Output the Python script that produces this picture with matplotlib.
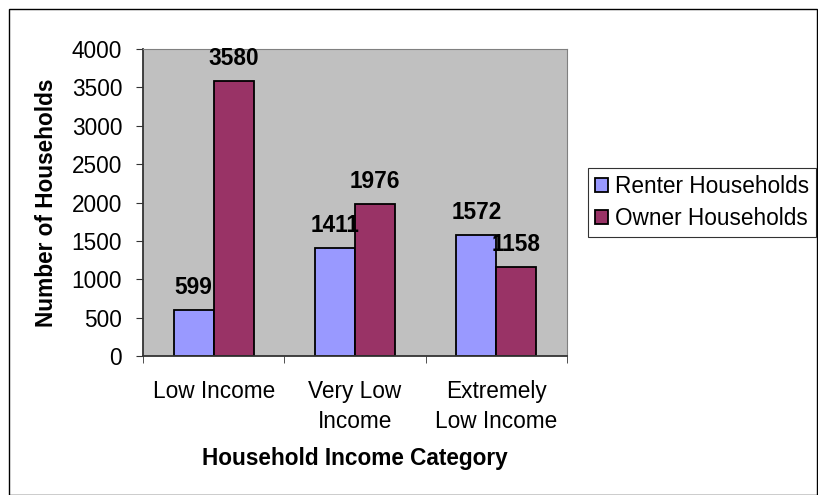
import numpy as np
import matplotlib.pyplot as plt
from matplotlib.patches import Rectangle

plt.rcParams['font.family'] = ['Liberation Sans', 'DejaVu Sans']

categories = ["Low Income", "Very Low\nIncome", "Extremely\nLow Income"]
renter = [599, 1411, 1572]
owner = [3580, 1976, 1158]
series_names = ["Renter Households", "Owner Households"]

FS = 16.3
W, H = 818, 495
fig = plt.figure(figsize=(W / 100, H / 100), dpi=100)
# outer chart border
fig.patches.append(Rectangle((9 / W, 0.5 / H), (W - 10) / W, (H - 9.5) / H,
                             transform=fig.transFigure, fill=False,
                             edgecolor='black', linewidth=1))

ax = fig.add_axes([143 / W, 1 - 356 / H, (567 - 143) / W, (356 - 49) / H])
ax.set_facecolor('#C0C0C0')

x = np.arange(len(categories))
bw = 0.282
b1 = ax.bar(x - bw / 2, renter, bw, color='#9999FF', edgecolor='black', linewidth=1.3, label=series_names[0])
b2 = ax.bar(x + bw / 2, owner, bw, color='#993366', edgecolor='black', linewidth=1.3, label=series_names[1])

for bars in (b1, b2):
    for r in bars:
        ax.annotate(str(int(r.get_height())), (r.get_x() + r.get_width() / 2, r.get_height()),
                    xytext=(0, 8), textcoords='offset points', ha='center', va='bottom',
                    fontsize=FS, fontweight='bold')

ax.set_xlim(-0.5, 2.5)
ax.set_ylim(0, 4000)
ax.set_yticks(np.arange(0, 4001, 500))
ax.set_xticks(x)
ax.set_xticklabels(categories, fontsize=FS, linespacing=1.4, va='top')
ax.set_xticks([-0.5, 0.5, 1.5, 2.5], minor=True)
ax.tick_params(axis='x', which='major', length=0, pad=17)
ax.tick_params(axis='x', which='minor', length=5, color='#333333')
ax.tick_params(axis='y', labelsize=FS, length=5, color='#333333', pad=10)

for s in ['top', 'right']:
    ax.spines[s].set_color('#808080')
for s in ['left', 'bottom']:
    ax.spines[s].set_color('#333333')
    ax.spines[s].set_linewidth(1.3)

ax.set_ylabel("Number of Households", fontsize=FS, fontweight='bold', labelpad=10)
ax.set_xlabel("Household Income Category", fontsize=FS, fontweight='bold', labelpad=10)

leg = ax.legend(loc='center left', bbox_to_anchor=((588 - 143) / (567 - 143), 0.5),
                fontsize=FS, frameon=True, fancybox=False, edgecolor='black',
                handlelength=0.6, handleheight=0.6, handletextpad=0.3, borderpad=0.3,
                labelspacing=0.4, borderaxespad=0)
leg.get_frame().set_linewidth(0.8)

fig.savefig('out.png', dpi=100)
